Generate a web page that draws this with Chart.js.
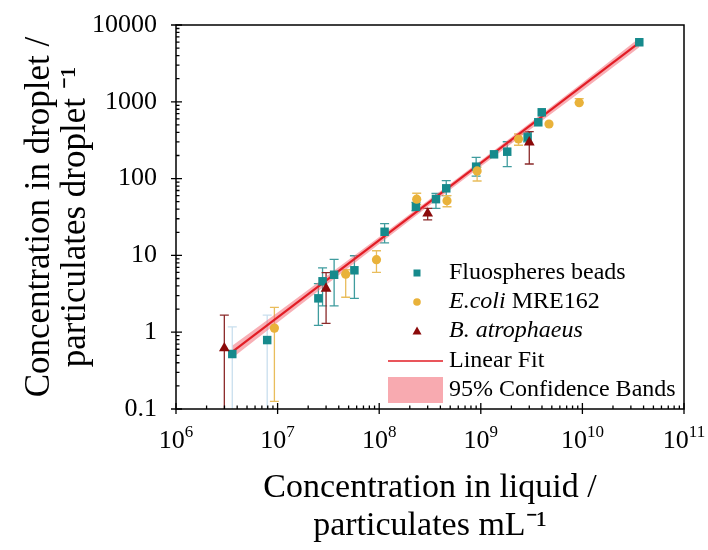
<!DOCTYPE html>
<html>
<head>
<meta charset="utf-8">
<script src="https://cdn.jsdelivr.net/npm/chart.js@4.4.1/dist/chart.umd.min.js"></script>
<style>
  html, body { margin: 0; padding: 0; background: #fff; }
</style>
</head>
<body>
<canvas id="myChart" width="708" height="550"></canvas>
<script>
// Fluospheres beads (x = particulates/mL, y = particulates/droplet, low/high = error bar ends)
const fluoX    = [3.58e6, 7.9e6, 2.52e7, 2.77e7, 3.6e7, 5.7e7, 1.13e8, 2.3e8, 3.62e8, 4.57e8, 9.0e8, 1.35e9, 1.82e9, 2.89e9, 3.68e9, 3.98e9, 3.63e10];
const fluoY    = [0.52, 0.79, 2.76, 4.6, 5.6, 6.4, 20.3, 43, 54, 74.7, 143, 207, 224, 345, 541, 730, 5960];
const fluoLow  = [0.05, 0.05, 1.23, 2.2, 2.2, 2.75, 14.6, 38, 41, 60, 108, 207, 143, 300, 541, 730, 5960];
const fluoHigh = [1.17, 1.67, 4.3, 6.9, 8.9, 9.9, 26, 49, 64, 94, 189, 207, 302, 400, 541, 730, 5960];

// E.coli MRE162
const ecoliX    = [9.3e6, 4.68e7, 9.4e7, 2.34e8, 4.65e8, 9.2e8, 2.35e9, 4.69e9, 9.3e9];
const ecoliY    = [1.13, 5.7, 8.8, 54, 51.5, 126, 328, 514, 973];
const ecoliLow  = [0.126, 2.85, 6.0, 46, 43, 93, 272, 514, 973];
const ecoliHigh = [2.1, 6.5, 11.5, 64.5, 60, 141, 381, 514, 1100];

// B. atrophaeus
const batroX    = [2.99e6, 3.0e7, 3.0e8, 3.0e9];
const batroY    = [0.62, 3.7, 35.3, 297];
const batroLow  = [0.05, 1.3, 29, 155];
const batroHigh = [1.67, 5.96, 41, 408];

// linear fit and 95% confidence band
const fitX = [3.6e6, 3.63e10];
const fitY = [0.56, 5900];
const bandX     = [3.6e6, 1e7, 3e7, 1e8, 3e8, 1e9, 3e9, 1e10, 3.63e10];
const bandLower = [0.466, 1.342, 4.12, 14.1, 42.9, 143.4, 425.7, 1406, 5139];
const bandUpper = [0.673, 1.81, 5.31, 17.4, 51.5, 172.3, 523.5, 1771, 6773];

// axis ticks
const xTickValues = [1e6, 1e7, 1e8, 1e9, 1e10, 1e11];
const xTickExponents = ['6', '7', '8', '9', '10', '11'];
const yTickValues = [0.1, 1, 10, 100, 1000, 10000];
const yTickLabels = ['0.1', '1', '10', '100', '1000', '10000'];
const minorSteps = [2, 3, 4, 5, 6, 7, 8, 9];

const TEAL = '#168a8c';
const GOLD = '#e9b23a';
const DARKRED = '#8b0a0a';
const FITRED = '#e21d25';
const SERIF = "'Liberation Serif', 'Times New Roman', serif";

// light blue bars on the two lowest bead points
const fluoErrColors = fluoX.map((v, i) => i < 2 ? '#c9dfee' : '#3f9c9e');

function pts(xs, ys) {
  return xs.map((v, i) => ({x: v, y: ys[i]}));
}

const errorSets = [
  {x: fluoX, low: fluoLow, high: fluoHigh, colors: fluoErrColors},
  {x: ecoliX, low: ecoliLow, high: ecoliHigh, color: '#e9bd5c'},
  {x: batroX, low: batroLow, high: batroHigh, color: '#8b2a2a'}
];

const errorBarPlugin = {
  id: 'errorBars',
  beforeDatasetsDraw(chart) {
    const {ctx, chartArea, scales} = chart;
    ctx.save();
    ctx.beginPath();
    ctx.rect(chartArea.left, chartArea.top, chartArea.right - chartArea.left, chartArea.bottom - chartArea.top);
    ctx.clip();
    ctx.lineWidth = 1.3;
    errorSets.forEach(set => {
      for (let i = 0; i < set.x.length; i++) {
        if (set.low[i] === set.high[i]) continue;
        const px = scales.x.getPixelForValue(set.x[i]);
        const lo = scales.y.getPixelForValue(set.low[i]);
        const hi = scales.y.getPixelForValue(set.high[i]);
        ctx.strokeStyle = set.colors ? set.colors[i] : set.color;
        ctx.beginPath();
        ctx.moveTo(px, lo); ctx.lineTo(px, hi);
        ctx.moveTo(px - 4.5, hi); ctx.lineTo(px + 4.5, hi);
        ctx.moveTo(px - 4.5, lo); ctx.lineTo(px + 4.5, lo);
        ctx.stroke();
      }
    });
    ctx.restore();
  }
};

// frame, tick marks, 10^n labels and the legend box
const framePlugin = {
  id: 'frame',
  afterDraw(chart) {
    const {ctx, chartArea: a, scales} = chart;
    ctx.save();
    ctx.strokeStyle = '#000';
    ctx.lineWidth = 1.5;
    ctx.strokeRect(a.left, a.top, a.right - a.left, a.bottom - a.top);
    ctx.lineWidth = 1.3;
    ctx.beginPath();
    xTickValues.forEach((v, k) => {
      const px = scales.x.getPixelForValue(v);
      ctx.moveTo(px, a.bottom + 5); ctx.lineTo(px, a.bottom - 6);
      if (k < xTickValues.length - 1) {
        minorSteps.forEach(m => {
          const mx = scales.x.getPixelForValue(v * m);
          ctx.moveTo(mx, a.bottom); ctx.lineTo(mx, a.bottom - 3.5);
        });
      }
    });
    yTickValues.forEach((v, k) => {
      const py = scales.y.getPixelForValue(v);
      ctx.moveTo(a.left - 5, py); ctx.lineTo(a.left + 6, py);
      if (k < yTickValues.length - 1) {
        minorSteps.forEach(m => {
          const my = scales.y.getPixelForValue(v * m);
          ctx.moveTo(a.left, my); ctx.lineTo(a.left + 3.5, my);
        });
      }
    });
    ctx.stroke();

    // x tick labels as 10 with a raised exponent
    ctx.fillStyle = '#000';
    ctx.textAlign = 'left';
    ctx.textBaseline = 'alphabetic';
    const baseFont = '26px ' + SERIF, expFont = '17px ' + SERIF;
    xTickValues.forEach((v, k) => {
      const px = scales.x.getPixelForValue(v);
      ctx.font = baseFont;
      const wb = ctx.measureText('10').width;
      ctx.font = expFont;
      const we = ctx.measureText(xTickExponents[k]).width;
      const x0 = px - (wb + we) / 2;
      ctx.font = baseFont;
      ctx.fillText('10', x0, a.bottom + 39);
      ctx.font = expFont;
      ctx.fillText(xTickExponents[k], x0 + wb, a.bottom + 28);
    });

    // legend
    const lx = 417, tx = 449;
    const rows = [273, 302, 331, 361, 390];
    ctx.textBaseline = 'middle';
    ctx.fillStyle = TEAL;
    ctx.fillRect(lx - 3.5, rows[0] - 3.5, 7, 7);
    ctx.fillStyle = GOLD;
    ctx.beginPath(); ctx.arc(lx, rows[1], 3.8, 0, Math.PI * 2); ctx.fill();
    ctx.fillStyle = DARKRED;
    ctx.beginPath();
    ctx.moveTo(lx, rows[2] - 4.5); ctx.lineTo(lx + 4.5, rows[2] + 3.5); ctx.lineTo(lx - 4.5, rows[2] + 3.5);
    ctx.closePath(); ctx.fill();
    ctx.strokeStyle = FITRED; ctx.lineWidth = 1.6;
    ctx.beginPath(); ctx.moveTo(388, rows[3]); ctx.lineTo(443, rows[3]); ctx.stroke();
    ctx.fillStyle = '#f8aab0';
    ctx.fillRect(388, rows[4] - 13, 55, 26);

    ctx.fillStyle = '#000';
    const reg = '24px ' + SERIF, ital = 'italic 24px ' + SERIF;
    ctx.font = reg;
    ctx.fillText('Fluospheres beads', tx, rows[0]);
    ctx.font = ital;
    ctx.fillText('E.coli', tx, rows[1]);
    const w = ctx.measureText('E.coli').width;
    ctx.font = reg;
    ctx.fillText(' MRE162', tx + w, rows[1]);
    ctx.font = ital;
    ctx.fillText('B. atrophaeus', tx, rows[2]);
    ctx.font = reg;
    ctx.fillText('Linear Fit', tx, rows[3]);
    ctx.fillText('95% Confidence Bands', tx, rows[4]);
    ctx.restore();
  }
};

const data = {
  datasets: [
    {
      label: 'band lower',
      data: pts(bandX, bandLower),
      showLine: true, pointRadius: 0, borderWidth: 0,
      borderColor: 'rgba(0,0,0,0)', fill: false, order: 6
    },
    {
      label: '95% Confidence Bands',
      data: pts(bandX, bandUpper),
      showLine: true, pointRadius: 0, borderWidth: 0,
      borderColor: 'rgba(0,0,0,0)', backgroundColor: 'rgba(242,110,120,0.55)',
      fill: '-1', order: 5
    },
    {
      label: 'Linear Fit',
      data: pts(fitX, fitY),
      showLine: true, pointRadius: 0, borderWidth: 2.2,
      borderColor: FITRED, order: 4
    },
    {
      label: 'Fluospheres beads',
      data: pts(fluoX, fluoY),
      pointStyle: 'rect', pointRadius: 6, borderWidth: 0,
      backgroundColor: TEAL, borderColor: TEAL, order: 3
    },
    {
      label: 'E.coli MRE162',
      data: pts(ecoliX, ecoliY),
      pointStyle: 'circle', pointRadius: 4.6, borderWidth: 0,
      backgroundColor: GOLD, borderColor: GOLD, order: 2
    },
    {
      label: 'B. atrophaeus',
      data: pts(batroX, batroY),
      pointStyle: 'triangle', pointRadius: 6.2, borderWidth: 0,
      backgroundColor: DARKRED, borderColor: DARKRED, order: 1
    }
  ]
};

const config = {
  type: 'scatter',
  data: data,
  options: {
    responsive: false,
    animation: false,
    layout: { padding: { left: 0, top: 25, right: 24, bottom: 0 } },
    plugins: {
      legend: { display: false },
      tooltip: { enabled: false }
    },
    scales: {
      x: {
        type: 'logarithmic',
        min: 1e6, max: 1e11,
        grid: { display: false, drawTicks: false },
        border: { display: false },
        afterBuildTicks: (scale) => { scale.ticks = xTickValues.map(v => ({value: v, major: true})); },
        afterFit: (scale) => { scale.height = 141; scale.paddingLeft = 0; scale.paddingRight = 0; },
        ticks: { display: false },
        title: {
          display: true, color: '#000',
          text: ['Concentration in liquid /', 'particulates mL\u207b\u00b9'],
          font: { family: SERIF, size: 34, lineHeight: 1.12 },
          padding: { top: 0, bottom: 5 }
        }
      },
      y: {
        type: 'logarithmic',
        min: 0.1, max: 10000,
        grid: { display: false, drawTicks: false },
        border: { display: false },
        afterBuildTicks: (scale) => { scale.ticks = yTickValues.map(v => ({value: v, major: true})); },
        afterFit: (scale) => { scale.width = 176; scale.paddingTop = 0; scale.paddingBottom = 0; },
        ticks: {
          autoSkip: false, padding: 19, color: '#000',
          font: { family: SERIF, size: 26 },
          callback: (value, index) => yTickLabels[index]
        },
        title: {
          display: true, color: '#000',
          text: ['Concentration in droplet /', 'particulates droplet \u207b\u00b9'],
          font: { family: SERIF, size: 35, lineHeight: 1.05 },
          padding: { top: 21, bottom: 0 }
        }
      }
    }
  },
  plugins: [errorBarPlugin, framePlugin]
};

const myChart = new Chart(document.getElementById('myChart'), config);
</script>
</body>
</html>
